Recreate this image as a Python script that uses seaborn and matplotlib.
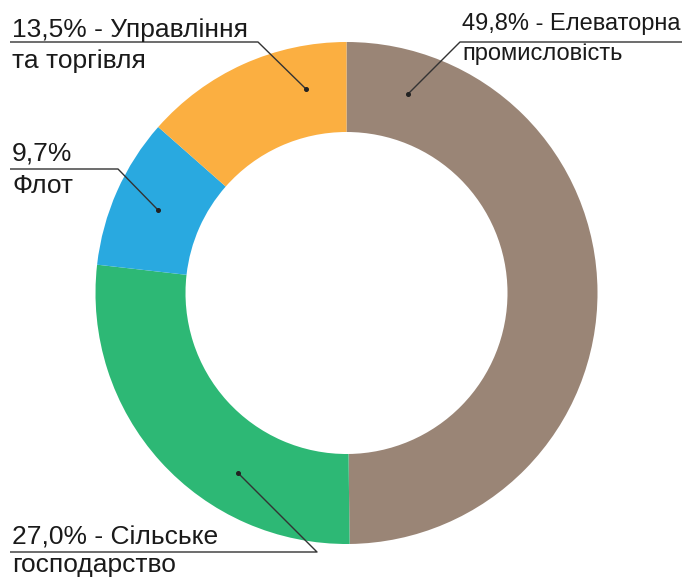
import matplotlib
matplotlib.use("Agg")
import matplotlib.pyplot as plt
import seaborn as sns

# Дані діаграми (за годинниковою стрілкою від верху)
sectors = ["Елеваторна промисловість", "Сільське господарство", "Флот", "Управління та торгівля"]
shares = [49.8, 27.0, 9.7, 13.5]
colors = ["#9A8576", "#2DB875", "#29A9E0", "#FBAF41"]

# Підписи: перший та другий рядок
line1 = ["49,8% - Елеваторна", "27,0% - Сільське", "9,7%", "13,5% - Управління"]
line2 = ["промисловість", "господарство", "Флот", "та торгівля"]

sns.set_style("white")
plt.rcParams['font.family'] = ['Liberation Sans', 'DejaVu Sans']

W, H = 686, 577
fig = plt.figure(figsize=(W / 100, H / 100), dpi=100)
ax = fig.add_axes([0, 0, 1, 1])

ax.pie(shares, colors=colors, startangle=90, counterclock=False,
       radius=251, center=(346.5, H - 293),
       wedgeprops=dict(width=90, linewidth=0))
ax.set_xlim(0, W)
ax.set_ylim(0, H)
ax.set_aspect('equal')
ax.axis('off')

def Y(y):
    return H - y

# розміщення підписів (в пікселях від верхнього лівого кута)
# x тексту, базова лінія 1, базова лінія 2, лінія підкреслення (x0, x1, y), точка, кегль
layout = [
    (462, 30, 60, 460, 682, 42, 408, 94, 17),
    (12, 544, 572, 10, 317, 552, 238, 473, 19),
    (12, 161, 193, 10, 118, 169, 158, 210, 19),
    (12, 37, 68, 10, 258, 42, 306, 89, 19),
]

for i, (tx, b1, b2, ux0, ux1, uy, dx, dy, fs) in enumerate(layout):
    ax.text(tx, Y(b1), line1[i], fontsize=fs, color="#1A1A1A", va='baseline', ha='left')
    ax.text(tx, Y(b2), line2[i], fontsize=fs, color="#1A1A1A", va='baseline', ha='left')
    # лінія підкреслення та виноска
    if i == 0:
        xs = [ux1, ux0, dx]
    else:
        xs = [ux0, ux1, dx]
    ax.plot(xs, [Y(uy), Y(uy), Y(dy)], color="#333333", lw=1.0, solid_capstyle='butt')
    ax.plot(dx, Y(dy), 'o', color="#222222", ms=2.6)

fig.savefig("out.png", dpi=100)
